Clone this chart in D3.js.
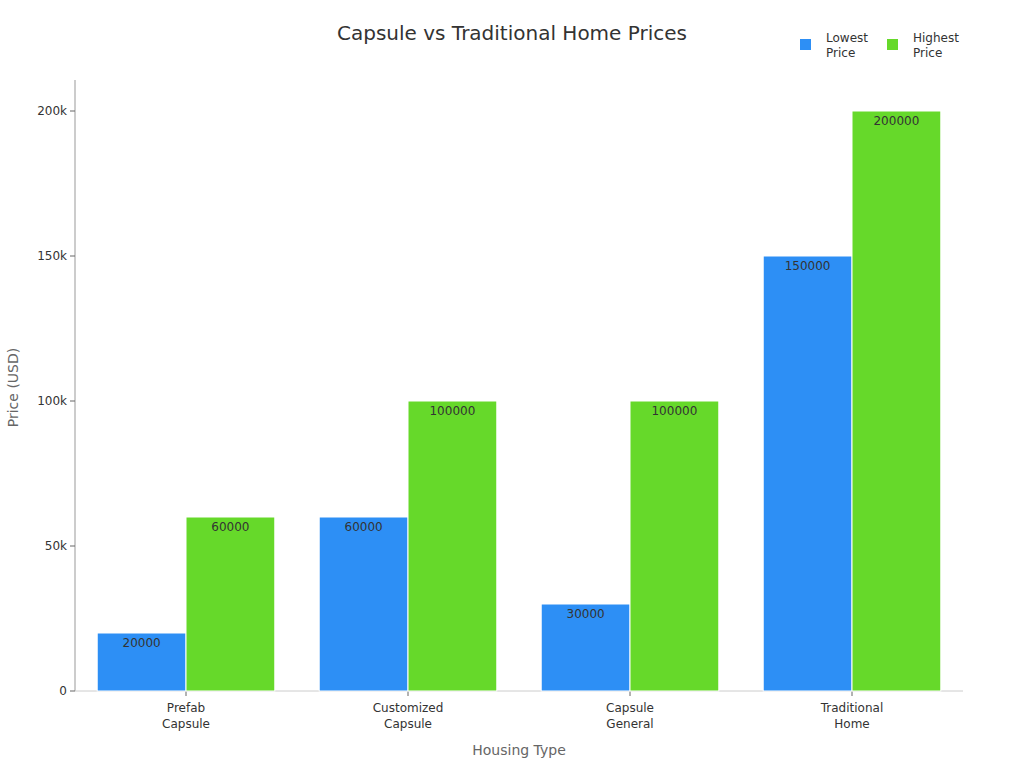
<!DOCTYPE html>
<html><head><meta charset="utf-8">
<script src="https://cdn.jsdelivr.net/npm/d3@7"></script>
<style>body{margin:0;background:#fff;font-family:"DejaVu Sans",sans-serif;}</style>
</head><body><svg id="c" width="1024" height="768"></svg>
<script>
const categories = [["Prefab","Capsule"],["Customized","Capsule"],["Capsule","General"],["Traditional","Home"]];
const lowest = [20000, 60000, 30000, 150000];
const highest = [60000, 100000, 100000, 200000];
const seriesNames = [["Lowest","Price"],["Highest","Price"]];
const colors = ["#2d8ff5","#66d92a"];
const yTicks = [0,50000,100000,150000,200000];
const yTickLabels = ["0","50k","100k","150k","200k"];

const svg = d3.select("#c");
const L=75,R=963,T=80,B=691;
const x = d3.scaleBand().domain(d3.range(4)).range([L,R]).paddingInner(0.2).paddingOuter(0.1);
const xs = d3.scaleBand().domain([0,1]).range([0,x.bandwidth()]);
const y = d3.scaleLinear().domain([0,200000]).range([B,111]);

svg.append("text").attr("x",512).attr("y",40).attr("text-anchor","middle").attr("font-size",20).attr("fill","#333").text("Capsule vs Traditional Home Prices");

// axes
svg.append("line").attr("x1",L).attr("x2",L).attr("y1",T).attr("y2",B).attr("stroke","#999");
svg.append("line").attr("x1",L).attr("x2",R).attr("y1",B).attr("y2",B).attr("stroke","#ccc");
yTicks.forEach((t,i)=>{
  svg.append("line").attr("x1",L-5).attr("x2",L).attr("y1",y(t)).attr("y2",y(t)).attr("stroke","#666");
  svg.append("text").attr("x",L-8).attr("y",y(t)+4).attr("text-anchor","end").attr("font-size",12).attr("fill","#333").text(yTickLabels[i]);
});
svg.append("text").attr("transform",`translate(18,${(T+B)/2+2}) rotate(-90)`).attr("text-anchor","middle").attr("font-size",14).attr("fill","#666").text("Price (USD)");
svg.append("text").attr("x",(L+R)/2).attr("y",755).attr("text-anchor","middle").attr("font-size",14).attr("fill","#666").text("Housing Type");

const data=[lowest,highest];
categories.forEach((c,i)=>{
  const cx=x(i)+x.bandwidth()/2;
  svg.append("line").attr("x1",cx).attr("x2",cx).attr("y1",B).attr("y2",B+5).attr("stroke","#666");
  c.forEach((ln,k)=>svg.append("text").attr("x",cx).attr("y",712+k*16).attr("text-anchor","middle").attr("font-size",12).attr("fill","#333").text(ln));
  data.forEach((s,j)=>{
    const bx=x(i)+xs(j), v=s[i];
    svg.append("rect").attr("x",bx).attr("y",y(v)).attr("width",xs.bandwidth()).attr("height",B-y(v)).attr("fill",colors[j]).attr("stroke","#fff").attr("stroke-width",1);
    svg.append("text").attr("x",bx+xs.bandwidth()/2).attr("y",y(v)+14).attr("text-anchor","middle").attr("font-size",12).attr("fill","#333").text(v);
  });
});

seriesNames.forEach((n,j)=>{
  const lx=800+j*87;
  svg.append("rect").attr("x",lx).attr("y",39).attr("width",11).attr("height",11).attr("fill",colors[j]);
  n.forEach((ln,k)=>svg.append("text").attr("x",lx+26).attr("y",42+k*15).attr("font-size",12).attr("fill","#333").text(ln));
});
</script></body></html>
